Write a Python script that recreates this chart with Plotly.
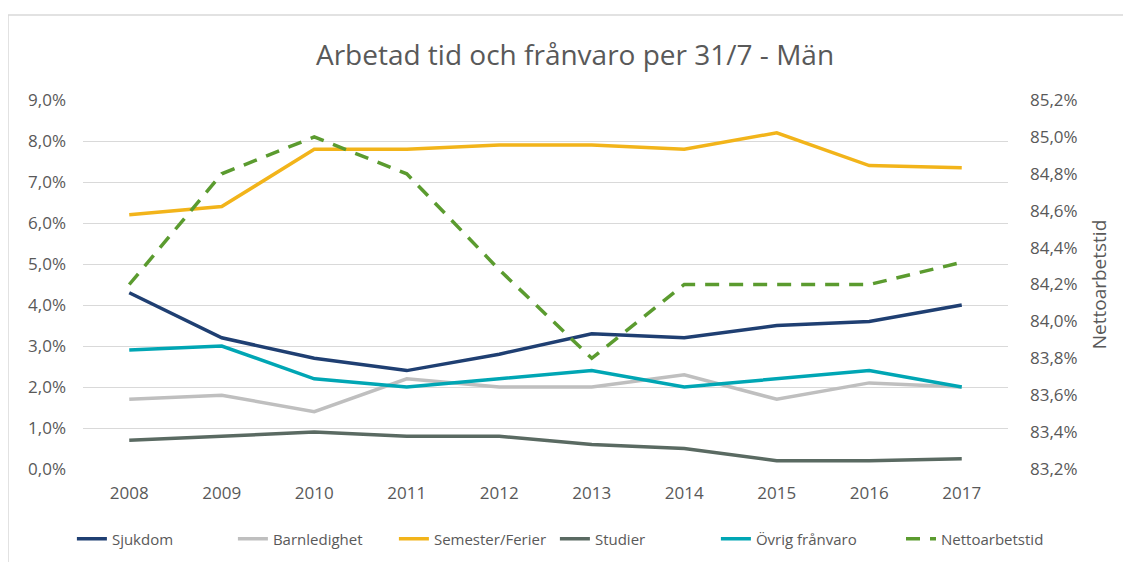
import plotly.graph_objects as go

years = ["2008", "2009", "2010", "2011", "2012", "2013", "2014", "2015", "2016", "2017"]
sjukdom = [4.3, 3.2, 2.7, 2.4, 2.8, 3.3, 3.2, 3.5, 3.6, 4.0]
barnledighet = [1.7, 1.8, 1.4, 2.2, 2.0, 2.0, 2.3, 1.7, 2.1, 2.0]
semester = [6.2, 6.4, 7.8, 7.8, 7.9, 7.9, 7.8, 8.2, 7.4, 7.35]
studier = [0.7, 0.8, 0.9, 0.8, 0.8, 0.6, 0.5, 0.2, 0.2, 0.25]
ovrig = [2.9, 3.0, 2.2, 2.0, 2.2, 2.4, 2.0, 2.2, 2.4, 2.0]
netto = [84.2, 84.8, 85.0, 84.8, 84.28, 83.8, 84.2, 84.2, 84.2, 84.32]

left_ticks = [0, 1, 2, 3, 4, 5, 6, 7, 8, 9]
right_ticks = [83.2, 83.4, 83.6, 83.8, 84.0, 84.2, 84.4, 84.6, 84.8, 85.0, 85.2]
left_labels = [f"{v:.1f}%".replace(".", ",") for v in left_ticks]
right_labels = [f"{v:.1f}%".replace(".", ",") for v in right_ticks]

FONT = "Open Sans"
TXT = "#595959"

fig = go.Figure()
series = [
    ("Sjukdom", sjukdom, "#1f3f72"),
    ("Barnledighet", barnledighet, "#bfbfbf"),
    ("Semester/Ferier", semester, "#f2b41a"),
    ("Studier", studier, "#5a6a62"),
    ("Övrig frånvaro", ovrig, "#00a6b4"),
]
for name, vals, col in series:
    fig.add_trace(go.Scatter(x=years, y=vals, name=name, mode="lines",
                             line=dict(color=col, width=3.5), yaxis="y", legend="legend"))
fig.add_trace(go.Scatter(x=years, y=netto, name="Nettoarbetstid", mode="lines",
                         line=dict(color="#5b9b2f", width=3.5, dash="14px,10px"),
                         yaxis="y2", legend="legend2"))

W, H = 1123, 554
LEG_Y = -70 / 369
fig.update_layout(
    width=W, height=H,
    paper_bgcolor="white", plot_bgcolor="white",
    margin=dict(l=75, r=123, t=92, b=93, autoexpand=False),
    font=dict(family=FONT, color=TXT, size=15),
    title=dict(text="Arbetad tid och frånvaro per 31/7 - Män", x=567 / W, xanchor="center",
               y=1 - 47 / H, yanchor="middle",
               font=dict(family=FONT, size=28, color=TXT)),
    xaxis=dict(type="category", range=[-0.5, 9.5], showgrid=False, showline=False, ticks="",
               tickfont=dict(size=17, color=TXT), ticklabelstandoff=12),
    yaxis=dict(range=[0, 9], tickvals=left_ticks, ticktext=left_labels,
               showgrid=True, gridcolor="#d9d9d9", gridwidth=1.3, zeroline=False,
               tickfont=dict(size=17, color=TXT), ticklabelstandoff=16),
    yaxis2=dict(range=[83.2, 85.2], tickvals=right_ticks, ticktext=right_labels,
                overlaying="y", side="right", showgrid=False, zeroline=False,
                tickfont=dict(size=17, color=TXT), ticklabelstandoff=21,
                title=dict(text="Nettoarbetstid", font=dict(size=19, color=TXT), standoff=16)),
    legend=dict(orientation="h", x=-0.012, xanchor="left", y=LEG_Y, yanchor="middle",
                font=dict(size=15, color=TXT), bgcolor="rgba(0,0,0,0)",
                entrywidth=116, entrywidthmode="pixels"),
    legend2=dict(orientation="h", x=(893 - 75) / 925, xanchor="left", y=LEG_Y, yanchor="middle",
                 font=dict(size=15, color=TXT), bgcolor="rgba(0,0,0,0)"),
    showlegend=True,
)

fig.add_shape(type="rect", xref="paper", yref="paper",
              x0=-75 / 925, x1=1.3, y0=-0.6, y1=1 + 85 / 369,
              line=dict(color="#d9d9d9", width=1.5), fillcolor="rgba(0,0,0,0)", layer="below")

fig.write_html("out.html")
